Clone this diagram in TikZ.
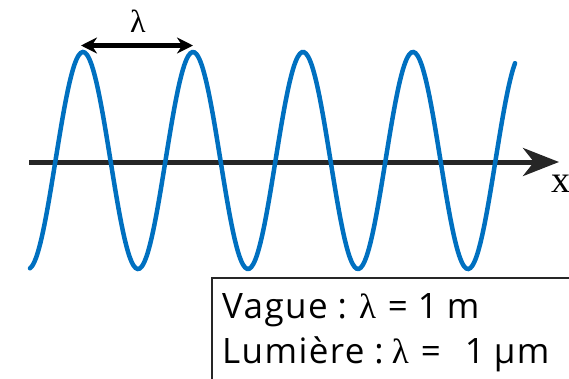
\documentclass[tikz,border=0pt]{standalone}
\usepackage{fontspec}
\setmainfont{Open Sans}[LetterSpace=4]
\newfontfamily\serifgr{Liberation Serif}
\usetikzlibrary{arrows.meta}
\definecolor{waveblue}{RGB}{0,112,192}
\definecolor{axisgray}{RGB}{38,38,38}
\newcommand{\gapw}[1]{\hspace*{#1pt}}
\tikzset{
  wavestyle/.style={waveblue, line width=4.5pt},
  axisstyle/.style={axisgray, line width=5pt, -{Stealth[length=36pt,width=28pt,inset=11pt]}},
  lambdaarrow/.style={black, line width=4.5pt, {Stealth[length=16pt,width=16pt]}-{Stealth[length=16pt,width=16pt]}},
  infobox/.style={draw=axisgray, line width=1.8pt, anchor=north west, minimum width=380pt, minimum height=130pt},
  boxtext/.style={anchor=base west, inner sep=0pt, font=\fontsize{35}{42}\selectfont}
}
\begin{document}
\begin{tikzpicture}[x=1pt,y=-1pt]
\useasboundingbox (0,0) rectangle (569,378);
\coordinate (axL) at (29,162);
\coordinate (axR) at (559,162);
\draw[axisstyle] (axL) -- (axR);
\draw[wavestyle, line cap=round] plot[domain=30:515, samples=240, smooth] (\x, {160.5 - 108.5*cos(3.272727*(\x-83))});
\coordinate (p1) at (81,45.5);
\coordinate (p2) at (193,45.5);
\draw[lambdaarrow] (p1) -- (p2);
\node (lam) at (138,21) {\serifgr\fontsize{32}{34}\selectfont λ};
\node[anchor=base west, inner sep=0pt] (xl) at (551,192) {\serifgr\fontsize{38}{40}\selectfont x};
\node[infobox] (box) at (211,277) {};
\node[boxtext] (line1) at (222,318) {Vague\gapw{10}:\gapw{12}{\serifgr λ}\gapw{12}=\gapw{10}1\gapw{9}m};
\node[boxtext] (line2) at (222,363) {Lumière\gapw{10}:\gapw{8}{\serifgr λ}\gapw{12}=\gapw{24}1\gapw{9}µm};
\end{tikzpicture}
\end{document}
